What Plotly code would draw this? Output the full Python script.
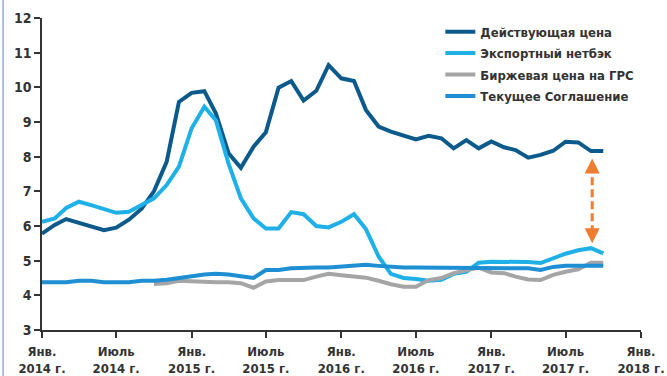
import plotly.graph_objects as go
import pandas as pd

months = pd.date_range("2014-01-01", periods=46, freq="MS").strftime("%Y-%m-%d").tolist()

names = ["Действующая цена", "Экспортный нетбэк", "Биржевая цена на ГРС", "Текущее Соглашение"]

dark = [5.78, 6.03, 6.2, 6.1, 6.0, 5.88, 5.95, 6.18, 6.5, 7.0, 7.85, 9.58, 9.84, 9.89, 9.25, 8.1,
        7.68, 8.29, 8.7, 9.99, 10.18, 9.62, 9.9, 10.64, 10.26, 10.18, 9.35, 8.87, 8.72, 8.62, 8.5,
        8.6, 8.53, 8.24, 8.48, 8.24, 8.44, 8.27, 8.19, 7.97, 8.05, 8.17, 8.43, 8.41, 8.16, 8.16]

light = [6.12, 6.22, 6.52, 6.7, 6.6, 6.48, 6.38, 6.41, 6.6, 6.8, 7.18, 7.71, 8.82, 9.44, 9.05, 7.8,
         6.8, 6.22, 5.93, 5.93, 6.4, 6.34, 6.0, 5.96, 6.12, 6.34, 5.91, 5.12, 4.62, 4.5, 4.47,
         4.42, 4.45, 4.62, 4.68, 4.94, 4.97, 4.97, 4.97, 4.96, 4.93, 5.07, 5.2, 5.3, 5.36, 5.21]

grey = [None] * 9 + [4.33, 4.35, 4.42, 4.4, 4.38, 4.38, 4.38, 4.35, 4.22, 4.4, 4.44, 4.44, 4.44,
                     4.54, 4.62, 4.58, 4.54, 4.51, 4.42, 4.32, 4.25, 4.25, 4.44, 4.5, 4.64, 4.73,
                     4.8, 4.66, 4.64, 4.54, 4.46, 4.44, 4.59, 4.68, 4.75, 4.94, 4.94]

medium = [4.38, 4.38, 4.38, 4.42, 4.42, 4.38, 4.38, 4.38, 4.42, 4.42, 4.45, 4.5, 4.55, 4.6, 4.62,
          4.6, 4.55, 4.5, 4.73, 4.73, 4.78, 4.8, 4.8, 4.8, 4.83, 4.88, 4.88, 4.85, 4.82,
          4.8, 4.8, 4.8, 4.8, 4.8, 4.8, 4.8, 4.8, 4.8, 4.8, 4.78, 4.73, 4.82, 4.85, 4.85, 4.85, 4.85]

tick_dates = ["2014-01-01", "2014-07-01", "2015-01-01", "2015-07-01", "2016-01-01",
              "2016-07-01", "2017-01-01", "2017-07-01", "2018-01-01"]
tick_text = ["Янв.<br>2014 г.", "Июль<br>2014 г.", "Янв.<br>2015 г.", "Июль<br>2015 г.",
             "Янв.<br>2016 г.", "Июль<br>2016 г.", "Янв.<br>2017 г.", "Июль<br>2017 г.",
             "Янв.<br>2018 г."]

arrow_x = "2017-09-04"
arrow_top = 7.95
arrow_bottom = 5.5

colors = ["#0c5a8c", "#1eb0e6", "#a5a5a7", "#1d8fd2"]
series = [dark, light, grey, medium]

FONT = "DejaVu Sans Condensed, DejaVu Sans, sans-serif"

fig = go.Figure()
for i, (name, vals, col) in enumerate(zip(names, series, colors)):
    fig.add_trace(go.Scatter(x=months, y=vals, name=name, mode="lines", legendgroup=f"g{i}",
                             line=dict(color=col, width=4), connectgaps=False))

fig.update_layout(
    width=667, height=376,
    margin=dict(l=42, r=26, t=18, b=46, autoexpand=False),
    paper_bgcolor="white", plot_bgcolor="white",
    font=dict(family=FONT, color="#333333", size=13),
    showlegend=True,
    legend=dict(x=0.665, y=1.004, xanchor="left", yanchor="top", traceorder="grouped",
                font=dict(family=FONT, size=13, color="#333333", weight="bold"),
                bgcolor="rgba(0,0,0,0)", itemwidth=30, tracegroupgap=1.5),
    xaxis=dict(type="date", range=["2014-01-01", "2018-01-01"], automargin=False,
               tickvals=tick_dates, ticktext=["<b>" + t.replace("<br>", "</b><br><b>") + "</b>" for t in tick_text],
               showgrid=False, zeroline=False, showline=True, linecolor="#333333", linewidth=1.5,
               ticks="outside", ticklen=6, tickwidth=1.5, tickcolor="#333333",
               ticklabelstandoff=3,
               tickfont=dict(family=FONT, size=13, color="#333333")),
    yaxis=dict(range=[3, 12], dtick=1, tick0=3, showgrid=False, zeroline=False, automargin=False,
               showline=True, linecolor="#333333", linewidth=1.5,
               ticks="outside", ticklen=6, tickwidth=1.5, tickcolor="#333333",
               tickfont=dict(family=FONT, size=14, color="#333333", weight="bold")),
)

# left frame line
fig.add_shape(type="line", xref="paper", yref="paper", x0=-0.065, x1=-0.065, y0=-0.2, y1=1.1,
              line=dict(color="#5b86c0", width=1))

# dashed double arrow
fig.add_shape(type="line", xref="x", yref="y", x0=arrow_x, x1=arrow_x,
              y0=arrow_top - 0.2, y1=arrow_bottom + 0.2,
              line=dict(color="#ef7d31", width=3, dash="8px,4px"))
for tip, off in [(arrow_top, 10), (arrow_bottom, -10)]:
    fig.add_annotation(x=arrow_x, y=tip, xref="x", yref="y", ax=0, ay=off, text="",
                       showarrow=True, arrowhead=2, arrowsize=1, arrowwidth=3,
                       arrowcolor="#ef7d31", standoff=0)

fig.write_html("out.html")
